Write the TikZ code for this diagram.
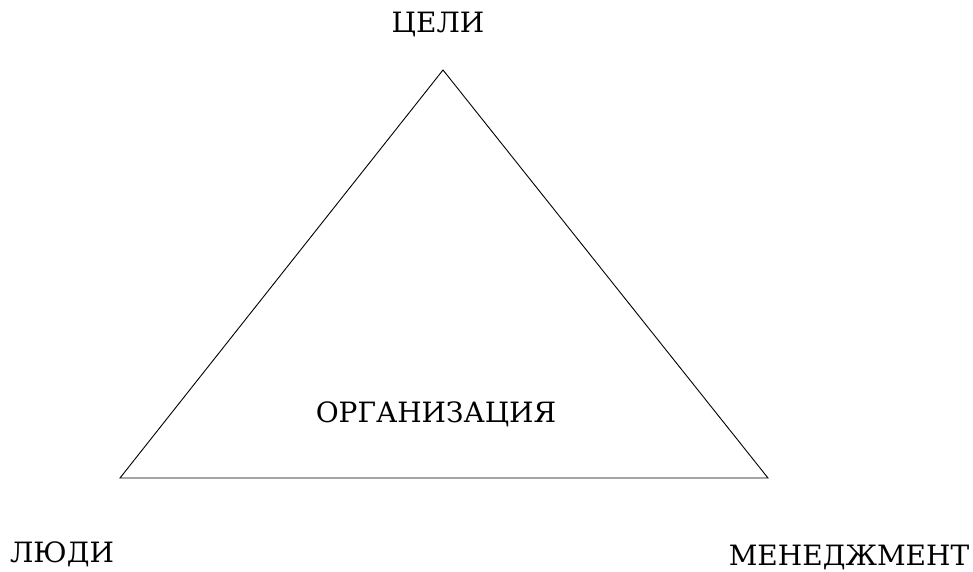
\documentclass[tikz,border=0pt]{standalone}
\usepackage{fontspec}
\setmainfont{DejaVu Serif}
\usepackage{tikz}
\usetikzlibrary{positioning}

\begin{document}
\begin{tikzpicture}[
  x=1pt, y=-1pt,
  lbl/.style={anchor=base, inner sep=0pt, font=\fontsize{28}{32}\selectfont},
  edge/.style={draw=black, line width=0.9pt}
]
  \useasboundingbox (0,0) rectangle (973,571);
  % corners of the triangle
  \coordinate (top)   at (443,70);
  \coordinate (left)  at (120,478);
  \coordinate (right) at (768,478);
  \draw[edge] (top) -- (left) -- (right) -- cycle;
  % labels
  \node[lbl] (goals)  at (438,32)  {ЦЕЛИ};
  \node[lbl] (people) at (62,562)  {ЛЮДИ};
  \node[lbl] (mgmt)   at (849,565) {МЕНЕДЖМЕНТ};
  \node[lbl] (org)    at (436,422) {ОРГАНИЗАЦИЯ};
\end{tikzpicture}
\end{document}
